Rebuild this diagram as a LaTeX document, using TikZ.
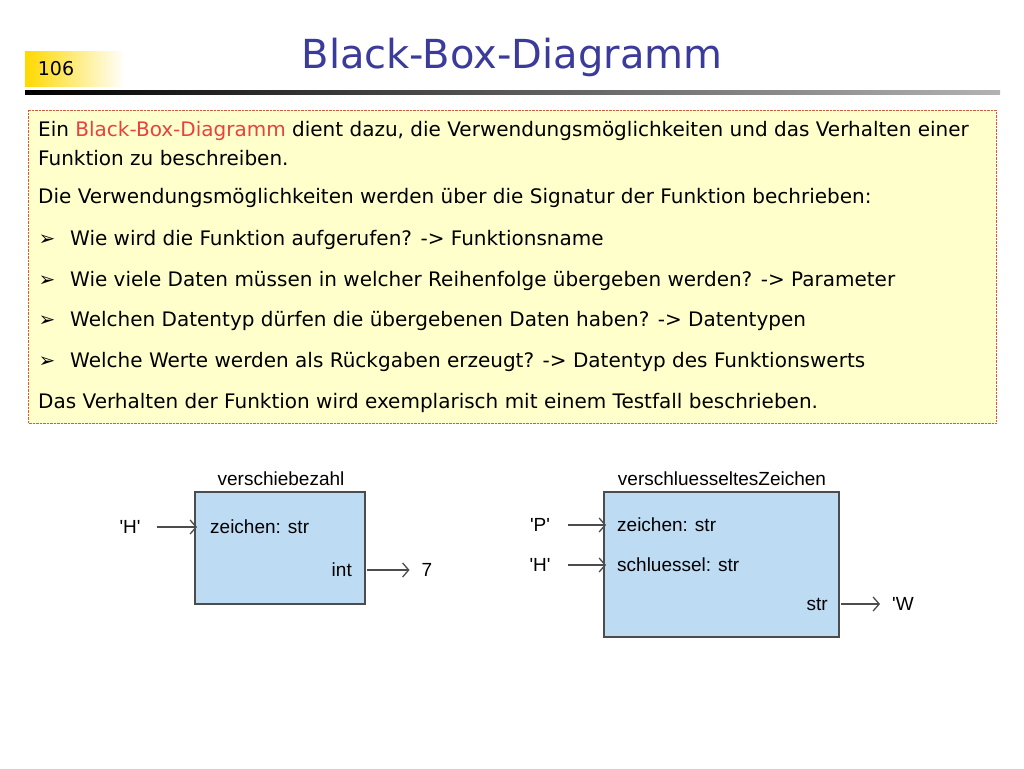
\documentclass[tikz,border=0pt]{standalone}
\usepackage{fontspec}
\setmainfont{DejaVu Sans}
\newfontfamily\boxfont{Liberation Sans}
\usetikzlibrary{positioning,arrows.meta}
\definecolor{titleblue}{HTML}{3B3B9C}
\definecolor{notered}{HTML}{E8413F}
\definecolor{noteyellow}{HTML}{FFFFCC}
\definecolor{boxblue}{HTML}{BDDCF4}
\tikzset{
  line/.style={font=\fontsize{20}{22}\selectfont,anchor=west,inner sep=0pt},
  bullet/.style={font=\fontsize{20}{22}\selectfont,inner sep=0pt},
  bbox/.style={draw=black!70,line width=1.2pt,fill=boxblue},
  port/.style={font=\boxfont\fontsize{19}{21}\selectfont,inner sep=0pt},
  flow/.style={-{Straight Barb[length=6pt,width=14pt]},black!70,line width=1.3pt}
}
\begin{document}
\begin{tikzpicture}[x=1pt,y=-1pt]
\useasboundingbox (0,0) rectangle (1024,768);
% header
\shade[left color=yellow!70!orange,right color=white] (25,52) rectangle (125,86);
\node[font=\fontsize{19}{20}\selectfont,inner sep=0pt] (num) at (56,69) {106};
\shade[left color=black,right color=black!30] (25,90) rectangle (1000,94);
\node[font=\fontsize{40}{44}\selectfont,text=titleblue,inner sep=0pt] (title) at (512,57) {Black-Box-Diagramm};
% note
\draw[densely dotted,draw=notered!60!brown,fill=noteyellow] (28,110) rectangle (996,423);
\node[line] (l1) at (38,131) {Ein \textcolor{notered}{Black-Box-Diagramm} dient dazu, die Verwendungsmöglichkeiten und das Verhalten einer};
\node[line] (l2) at (38,158) {Funktion zu beschreiben.};
\node[line] (l3) at (38,198) {Die Verwendungsmöglichkeiten werden über die Signatur der Funktion bechrieben:};
\foreach \y/\t in {240/{Wie wird die Funktion aufgerufen? -> Funktionsname},
                   281/{Wie viele Daten müssen in welcher Reihenfolge übergeben werden? -> Parameter},
                   321/{Welchen Datentyp dürfen die übergebenen Daten haben? -> Datentypen},
                   362/{Welche Werte werden als Rückgaben erzeugt? -> Datentyp des Funktionswerts}}{
  \node[bullet] at (47,\y) {➢};
  \node[line] at (70,\y) {\t};
}
\node[line] (l8) at (38,403) {Das Verhalten der Funktion wird exemplarisch mit einem Testfall beschrieben.};
% first black box
\draw[bbox] (195,492) rectangle (365,604);
\node[port] (name1) at (281,479) {verschiebezahl};
\node[port] (h1) at (130,527) {'H'};
\coordinate (in1) at (197,527);
\node[port,anchor=west] (z1) at (210,527) {zeichen: str};
\node[port,anchor=east] (int1) at (352,570) {int};
\node[port] (seven) at (427,570) {7};
\draw[flow] (h1.east)+(16,0) -- (in1);
\draw[flow] (367,570) -- ([xshift=-12pt]seven.west);
% second black box
\draw[bbox] (604,492) rectangle (839,637);
\node[port] (name2) at (722,479) {verschluesseltesZeichen};
\node[port] (p2) at (540,525) {'P'};
\node[port] (h2) at (540,565) {'H'};
\node[port,anchor=west] (z2) at (617,525) {zeichen: str};
\node[port,anchor=west] (s2) at (617,565) {schluessel: str};
\node[port,anchor=east] (str2) at (828,604) {str};
\node[port,anchor=west] (w2) at (892,604) {'W};
\draw[flow] (568,525) -- (606,525);
\draw[flow] (568,565) -- (606,565);
\draw[flow] (841,604) -- (880,604);
\end{tikzpicture}
\end{document}
